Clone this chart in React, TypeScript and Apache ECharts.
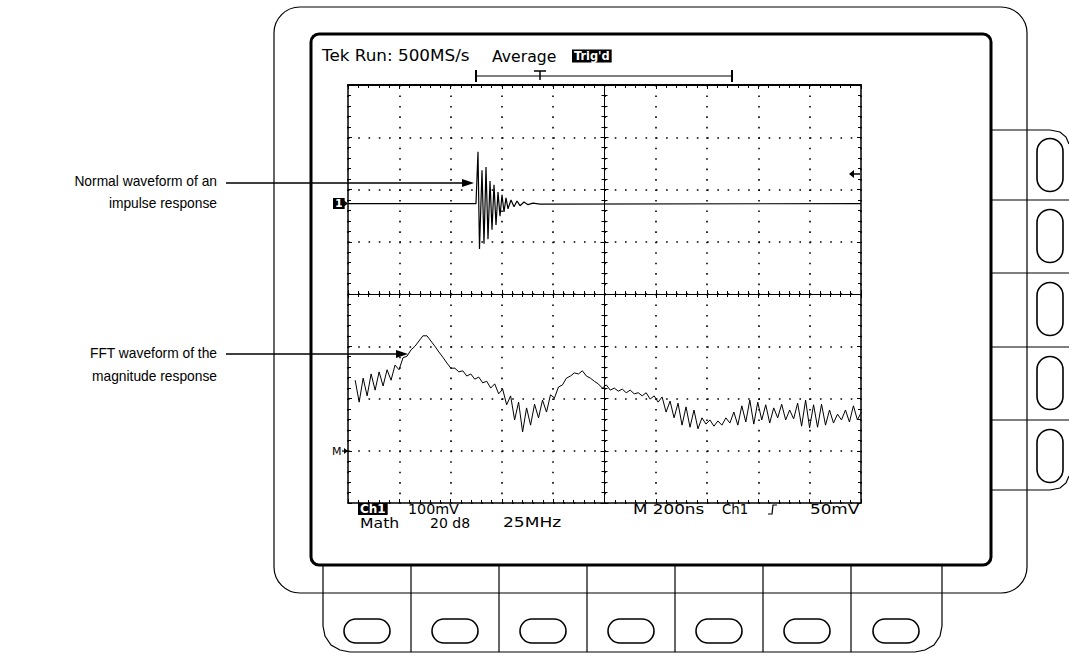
import React, { useEffect, useRef } from "react";
import * as echarts from "echarts";

// Graticule: 10 x 8 divisions, centre at (0,0)
const X_DIVS = [-5, 5];
const Y_DIVS = [-4, 4];

// Channel 1 impulse response (x, y in divisions)
const ch1X = [-5, -2.505, -2.466, -2.437, -2.388, -2.349, -2.31, -2.271, -2.232, -2.193, -2.154, -2.115, -2.076, -2.037, -1.998, -1.959, -1.92, -1.881, -1.823, -1.764, -1.706, -1.647, -1.569, -1.491, -1.394, -1.257, 5];
const ch1Y = [1.73, 1.73, 2.72, 0.86, 2.37, 0.96, 2.43, 1.05, 2.16, 1.23, 2.09, 1.32, 1.95, 1.49, 1.9, 1.57, 1.84, 1.63, 1.8, 1.67, 1.78, 1.69, 1.76, 1.71, 1.74, 1.72, 1.73];

// FFT magnitude (divisions), one value per bin
const FFT_START = -4.86;
const FFT_BIN = 0.0777;
const fftLevel = [
  -1.65, -2.07, -1.61, -1.95, -1.53, -1.84, -1.49, -1.76, -1.45, -1.65,
  -1.36, -1.45, -1.22, -1.19, -1.07, -1.0, -0.9, -0.8, -0.8, -0.9,
  -1.0, -1.11, -1.21, -1.32, -1.42, -1.42, -1.49, -1.47, -1.57, -1.53,
  -1.63, -1.59, -1.7, -1.67, -1.8, -1.72, -1.91, -1.82, -2.12, -1.95,
  -2.41, -2.07, -2.64, -2.18, -2.51, -2.11, -2.37, -2.03, -2.26, -1.93,
  -1.99, -1.78, -1.74, -1.61, -1.57, -1.51, -1.53, -1.47, -1.57, -1.61,
  -1.67, -1.72, -1.8, -1.74, -1.84, -1.8, -1.86, -1.82, -1.89, -1.84,
  -1.91, -1.89, -1.95, -1.89, -2.01, -1.95, -2.07, -1.97, -2.26, -2.05,
  -2.37, -2.09, -2.51, -2.16, -2.55, -2.22, -2.58, -2.37, -2.49, -2.41,
  -2.53, -2.43, -2.51, -2.37, -2.47, -2.26, -2.51, -2.14, -2.45, -2.03,
  -2.49, -2.07, -2.41, -2.12, -2.47, -2.18, -2.37, -2.11, -2.41, -2.22,
  -2.39, -2.09, -2.53, -2.03, -2.56, -2.12, -2.55, -2.11, -2.51, -2.22,
  -2.47, -2.3, -2.41, -2.22, -2.45, -2.14, -2.41, -2.26
];

const topStatus = ["Tek Run: 500MS/s", "Average"];
const trigState = "Trig'd";
const bottomRow1 = ["100mV", "M 200ns", "Ch1", "50mV"];
const bottomRow2 = ["Math", "20 d8", "25MHz"];
const notes = ["Normal waveform of an", "impulse response", "FFT waveform of the", "magnitude response"];

const SCREEN_FONT = "14px 'DejaVu Sans'";
const NOTE_FONT = "15px 'Liberation Sans'";

function btn(cx: number, cy: number, w: number, h: number) {
  return {
    type: "rect",
    shape: { x: cx - w / 2, y: cy - h / 2, width: w, height: h, r: Math.min(w, h) / 2 },
    style: { fill: "none", stroke: "#000", lineWidth: 1.6 },
  };
}
function ln(x1: number, y1: number, x2: number, y2: number, w = 1) {
  return { type: "line", shape: { x1, y1, x2, y2 }, style: { stroke: "#000", lineWidth: w } };
}
function txt(x: number, y: number, text: string, font: string, extra: any = {}, sx = 1) {
  return { type: "text", x, y, scaleX: sx, style: { text, font, fill: "#000", verticalAlign: "middle", ...extra } };
}

export default function App() {
  const ref = useRef<HTMLDivElement>(null);
  useEffect(() => {
    if (!ref.current) return;
    const chart = echarts.init(ref.current, undefined, { renderer: "svg" });

    const graphics: any[] = [];
    // outer bezel
    graphics.push({
      type: "rect",
      shape: { x: 274, y: 7, width: 753, height: 586, r: 26 },
      style: { fill: "none", stroke: "#000", lineWidth: 1.2 },
    });
    // bottom panel
    graphics.push({
      type: "polyline",
      shape: { points: [[323, 566], [323, 626], [325, 636], [331, 645], [340, 650], [350, 652], [915, 652], [925, 650], [934, 645], [940, 636], [942, 626], [942, 566]] },
      style: { fill: "none", stroke: "#000", lineWidth: 1.2 },
    });
    const bottomDiv = [411, 499, 587, 675, 763, 851];
    bottomDiv.forEach((x) => graphics.push(ln(x, 566, x, 652, 1.2)));
    const bottomBtn = [367, 455, 543, 631, 719, 807, 896];
    bottomBtn.forEach((x) => graphics.push(btn(x, 631, 46, 24)));
    // right panel
    graphics.push({
      type: "polyline",
      shape: { points: [[991, 130], [1050, 130], [1060, 132], [1066, 137], [1069, 144]] },
      style: { fill: "none", stroke: "#000", lineWidth: 1.2 },
    });
    graphics.push({
      type: "polyline",
      shape: { points: [[991, 490], [1050, 490], [1060, 488], [1066, 483], [1069, 476]] },
      style: { fill: "none", stroke: "#000", lineWidth: 1.2 },
    });
    [200, 273, 347, 420].forEach((y) => graphics.push(ln(991, y, 1069, y, 1.2)));
    [165, 236, 309, 383, 456].forEach((y) => graphics.push(btn(1050, y, 26, 53)));
    // screen frame
    graphics.push({
      type: "rect",
      shape: { x: 311, y: 34, width: 680, height: 531, r: 8 },
      style: { fill: "none", stroke: "#000", lineWidth: 3 },
    });
    // status text
    graphics.push(txt(322, 56, topStatus[0], "16px 'DejaVu Sans'", {}, 1.05));
    graphics.push(txt(492, 56, topStatus[1], "16px 'DejaVu Sans'", {}, 0.98));
    graphics.push(txt(572, 56, trigState, "bold 12px 'DejaVu Sans'", { fill: "#fff", backgroundColor: "#000", padding: [1, 2, 0, 2] }, 0.95));
    // record bracket
    graphics.push(ln(476, 70, 476, 82, 2));
    graphics.push(ln(476, 76, 732, 76, 1.2));
    graphics.push(ln(732, 70, 732, 82, 2));
    graphics.push(ln(534, 71, 546, 71, 1.5));
    graphics.push(ln(540, 71, 540, 80, 1.5));
    // channel markers
    graphics.push(txt(333, 203.5, "1", "bold 11px 'DejaVu Sans'", { fill: "#fff", backgroundColor: "#000", padding: [0, 2] }));
    graphics.push({ type: "polygon", shape: { points: [[342, 199], [348, 203.5], [342, 208]] }, style: { fill: "#000" } });
    graphics.push(txt(332, 451, "M", "11px 'DejaVu Sans'"));
    graphics.push(ln(342, 451, 348, 451, 1.2));
    graphics.push({ type: "polygon", shape: { points: [[344, 448], [348, 451], [344, 454]] }, style: { fill: "#000" } });
    // trigger level marker
    graphics.push(ln(851, 174, 860, 174, 1.5));
    graphics.push({ type: "polygon", shape: { points: [[849, 174], [854, 170], [854, 178]] }, style: { fill: "#000" } });
    // bottom readouts
    graphics.push(txt(358, 509, "Ch1", "bold 12px 'DejaVu Sans'", { fill: "#fff", backgroundColor: "#000", padding: [0, 2] }));
    graphics.push(txt(408, 509, bottomRow1[0], SCREEN_FONT, {}, 1.02));
    graphics.push(txt(633, 509, bottomRow1[1], SCREEN_FONT, {}, 1.2));
    graphics.push(txt(722, 509, bottomRow1[2], SCREEN_FONT, {}, 0.95));
    graphics.push({ type: "polyline", shape: { points: [[768, 514], [772, 514], [773, 505], [777, 505]] }, style: { fill: "none", stroke: "#000", lineWidth: 1.2 } });
    graphics.push(txt(810, 509, bottomRow1[3], SCREEN_FONT, {}, 1.2));
    graphics.push(txt(360, 523, bottomRow2[0], SCREEN_FONT, {}, 1.12));
    graphics.push(txt(430, 523, bottomRow2[1], SCREEN_FONT, {}, 1.0));
    graphics.push(txt(503, 523, bottomRow2[2], SCREEN_FONT, {}, 1.22));
    // annotations
    graphics.push(txt(217, 181, notes[0], NOTE_FONT, { align: "right" }, 0.92));
    graphics.push(txt(217, 203, notes[1], NOTE_FONT, { align: "right" }, 0.92));
    graphics.push(txt(217, 353, notes[2], NOTE_FONT, { align: "right" }, 0.92));
    graphics.push(txt(217, 376, notes[3], NOTE_FONT, { align: "right" }, 0.92));
    graphics.push(ln(226, 183, 464, 183, 1.3));
    graphics.push({ type: "polygon", shape: { points: [[474, 183], [462, 179], [462, 187]] }, style: { fill: "#000" } });
    graphics.push(ln(226, 354, 398, 354, 1.3));
    graphics.push({ type: "polygon", shape: { points: [[408, 354], [396, 350], [396, 358]] }, style: { fill: "#000" } });

    const black = { color: "#000" };
    const hidden = { show: false };
    const baseX = { type: "value", min: X_DIVS[0], max: X_DIVS[1], interval: 1, axisLabel: hidden, splitLine: hidden };
    const baseY = { type: "value", min: Y_DIVS[0], max: Y_DIVS[1], interval: 1, axisLabel: hidden, splitLine: hidden };
    const ticks = (inside: boolean) => ({
      axisTick: { show: true, inside, length: 4, lineStyle: { ...black, width: 1 } },
      minorTick: { show: true, splitNumber: 5, length: 3, lineStyle: { ...black, width: 1 } },
    });

    chart.setOption({
      animation: false,
      backgroundColor: "#fff",
      grid: { left: 348, top: 85, width: 513, height: 418, show: false },
      xAxis: [
        {
          ...baseX, position: "bottom",
          axisLine: { onZero: true, lineStyle: { ...black, width: 1 } }, ...ticks(true),
          splitLine: { show: true, lineStyle: { ...black, width: 1.6, type: [1.6, 8.85] } },
        },
        { ...baseX, position: "bottom", axisLine: { onZero: true, lineStyle: { ...black, width: 1 } }, ...ticks(false) },
        { ...baseX, position: "top", axisLine: { onZero: false, lineStyle: { ...black, width: 2 } }, ...ticks(true) },
        { ...baseX, position: "bottom", axisLine: { onZero: false, lineStyle: { ...black, width: 1.5 } }, ...ticks(true) },
      ],
      yAxis: [
        {
          ...baseY, position: "left",
          axisLine: { onZero: true, lineStyle: { ...black, width: 1 } }, ...ticks(true),
          splitLine: { show: true, lineStyle: { ...black, width: 1.6, type: [1.6, 8.66] } },
        },
        { ...baseY, position: "left", axisLine: { onZero: true, lineStyle: { ...black, width: 1 } }, ...ticks(false) },
        { ...baseY, position: "left", axisLine: { onZero: false, lineStyle: { ...black, width: 1.5 } }, ...ticks(true) },
        { ...baseY, position: "right", axisLine: { onZero: false, lineStyle: { ...black, width: 1.5 } }, ...ticks(true) },
      ],
      series: [
        {
          type: "line", name: "Ch1", xAxisIndex: 0, yAxisIndex: 0, symbol: "none",
          data: ch1X.map((x, i) => [x, ch1Y[i]]),
          lineStyle: { color: "#000", width: 1.2 },
        },
        {
          type: "line", name: "Math FFT", xAxisIndex: 0, yAxisIndex: 0, symbol: "none",
          data: fftLevel.map((v, i) => [FFT_START + i * FFT_BIN, v]),
          lineStyle: { color: "#000", width: 1 },
        },
      ],
      graphic: graphics,
    } as any);
    return () => chart.dispose();
  }, []);
  return <div ref={ref} style={{ position: "fixed", left: 0, top: 0, width: 1069, height: 655, background: "#fff" }} />;
}
